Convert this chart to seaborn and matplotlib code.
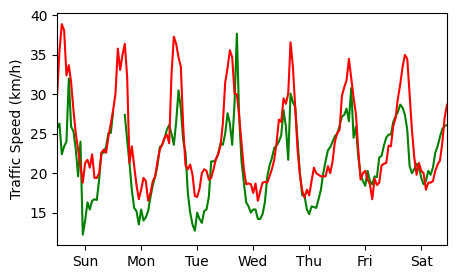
import numpy as np
import pandas as pd
import matplotlib
matplotlib.use("Agg")
import matplotlib.pyplot as plt
import seaborn as sns

hours = np.arange(168)
day_labels = ["Sun", "Mon", "Tue", "Wed", "Thu", "Fri", "Sat"]
day_ticks = [12, 36, 60, 84, 108, 132, 156]

nan = np.nan
green_speed = [
    25.7, 26.3, 22.4, 23.4, 24.0, 32.0, 25.9, 25.3, 23.0, 19.6, 24.0, 12.2,
    14.0, 16.3, 15.4, 16.5, 16.7, 16.6, 19.2, 22.6, 22.6, 23.4, 25.1, 25.1,
    27.8, nan, nan, nan, nan, 27.4, 24.2, 21.3, 17.9, 15.6, 15.2, 13.5,
    15.4, 14.0, 14.4, 15.2, 17.0, 18.5, 19.6, 21.0, 23.3, 23.6, 24.4, 25.5,
    26.1, 25.0, 23.6, 26.5, 30.5, 28.2, 24.2, 22.6, 17.5, 15.0, 13.5, 12.7,
    15.0, 14.2, 13.7, 15.2, 15.4, 17.0, 21.5, 21.5, 21.7, 22.5, 23.8, 23.6,
    25.0, 27.6, 26.3, 23.6, 28.9, 37.7, 27.0, 21.5, 18.8, 16.3, 15.8, 15.0,
    15.4, 15.4, 14.2, 14.2, 14.8, 16.3, 19.5, 21.0, 21.9, 23.2, 23.5, 24.0,
    24.8, 28.0, 25.9, 21.7, 30.1, 29.0, 28.4, 24.2, 20.0, 17.2, 17.1, 15.4,
    14.8, 15.8, 15.7, 15.6, 16.7, 17.9, 20.0, 21.5, 22.9, 23.3, 24.0, 24.7,
    25.0, 26.0, 27.2, 27.4, 28.2, 26.6, 30.8, 24.5, 25.9, 22.1, 19.8, 19.0,
    18.4, 20.3, 19.0, 18.6, 19.6, 19.5, 22.0, 22.2, 23.5, 24.5, 24.9, 24.9,
    26.5, 27.2, 27.8, 28.7, 28.3, 27.4, 25.5, 20.9, 20.0, 20.5, 21.2, 20.8,
    19.4, 18.6, 19.0, 20.3, 19.8, 20.7, 22.6, 23.4, 24.6, 25.6, 26.0, 26.1,
]
red_speed = [
    29.9, 35.5, 38.9, 38.1, 32.4, 33.7, 31.5, 28.0, 25.0, 23.0, 20.9, 18.8,
    21.3, 21.7, 20.7, 22.4, 19.4, 19.4, 20.0, 22.6, 23.0, 22.6, 24.7, 26.3,
    28.0, 30.1, 35.8, 33.1, 35.0, 36.4, 32.2, 21.3, 23.4, 21.0, 18.5, 16.7,
    17.9, 19.4, 19.0, 16.5, 17.5, 19.0, 19.6, 21.5, 23.0, 23.6, 24.5, 24.9,
    23.8, 32.5, 37.3, 36.4, 34.7, 33.5, 26.0, 21.0, 20.5, 21.1, 19.8, 17.1,
    17.0, 18.0, 20.0, 20.5, 20.3, 19.2, 19.4, 20.5, 21.8, 22.4, 23.5, 26.3,
    31.5, 33.3, 35.6, 34.7, 30.1, 30.0, 27.2, 23.8, 20.5, 18.6, 18.7, 18.6,
    17.5, 18.7, 16.5, 17.7, 18.8, 18.9, 18.8, 19.6, 20.5, 21.7, 23.8, 26.8,
    26.5, 29.5, 28.8, 30.1, 36.6, 33.5, 28.4, 23.0, 19.8, 17.8, 16.9, 17.9,
    17.2, 19.0, 20.7, 20.0, 19.8, 19.6, 19.6, 19.6, 20.9, 20.0, 21.5, 24.0,
    25.1, 25.5, 29.8, 30.9, 31.8, 34.5, 32.0, 29.6, 27.5, 23.0, 19.2, 20.0,
    20.3, 19.2, 18.6, 16.7, 19.3, 18.5, 18.8, 21.0, 21.2, 21.3, 23.5, 23.4,
    26.0, 27.0, 29.5, 31.3, 33.5, 35.0, 34.5, 30.1, 25.5, 22.0, 19.8, 21.3,
    20.3, 20.0, 17.9, 18.8, 18.8, 19.0, 20.3, 21.1, 21.6, 23.8, 27.0, 28.7,
]

# green series has missing readings -> split into separate runs so the line breaks
green = pd.DataFrame({"hour": hours, "speed": green_speed})
green["run"] = green["speed"].isna().cumsum()
green = green.dropna()

fig, ax = plt.subplots(figsize=(4.57, 2.79), dpi=100)
fig.subplots_adjust(left=0.125, right=0.978, top=0.953, bottom=0.122)

sns.lineplot(data=green, x="hour", y="speed", units="run", estimator=None,
             color="green", ax=ax)
sns.lineplot(x=hours, y=red_speed, color="red", ax=ax, estimator=None)

ax.set_xlim(0, 167)
ax.set_ylim(10.9, 40.3)
ax.set_xticks(day_ticks)
ax.set_xticklabels(day_labels)
ax.set_yticks([15, 20, 25, 30, 35, 40])
ax.set_xlabel("")
ax.set_ylabel("Traffic Speed (km/h)")

plt.savefig("out.png", dpi=100)
plt.close()
